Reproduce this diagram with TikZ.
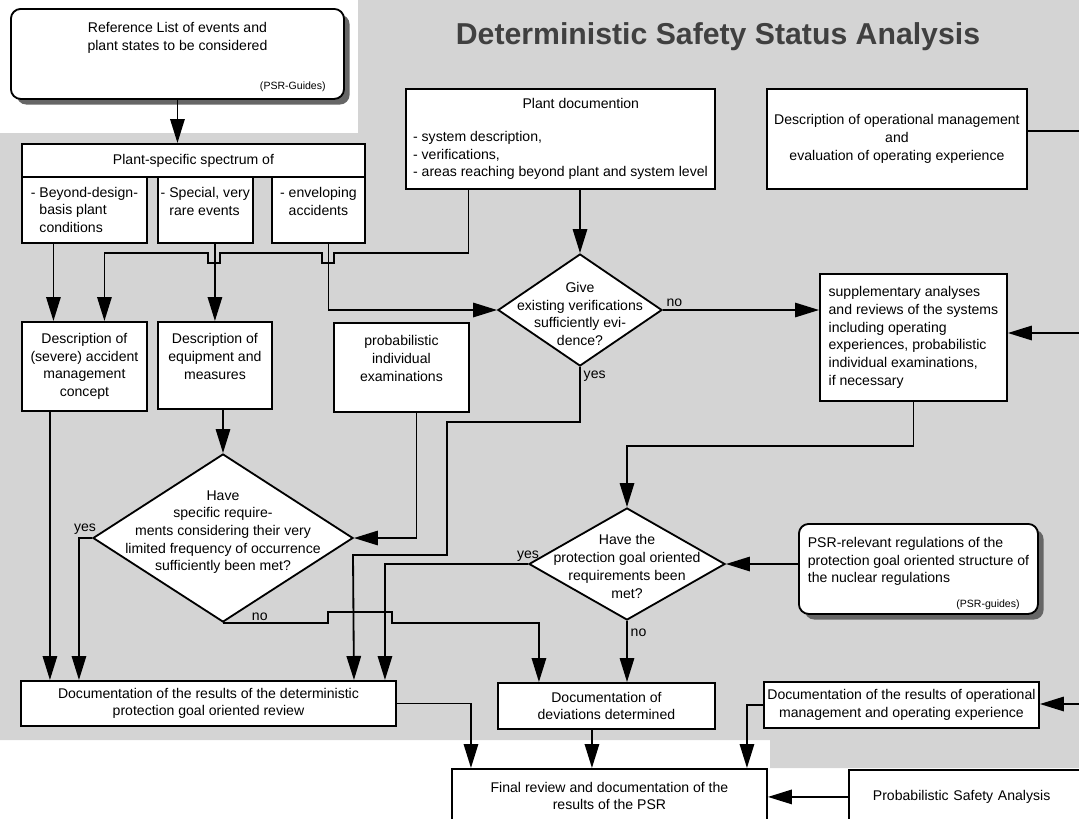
\documentclass[tikz,border=0pt]{standalone}
\usepackage{fontspec}
\setmainfont{Liberation Sans}
\usetikzlibrary{shapes.geometric, arrows.meta, shadows}
\newcommand{\qtext}[2][0pt]{\smash{\makebox[0pt]{\raisebox{#1}{\begin{tabular}{@{}c@{}}#2\end{tabular}}}}}

\begin{document}
\begin{tikzpicture}[
    x=0.025cm, y=-0.025cm,
    box/.style={rectangle, draw, line width=1.3pt, fill=white, align=center, font={\fontsize{10}{12.6}\selectfont}, inner sep=2pt, anchor=north west},
    evtbox/.style={box, align=left, minimum height=1.65cm},
    guide/.style={box, rounded corners=7pt, drop shadow={shadow xshift=4pt, shadow yshift=-4pt, fill=black!60, opacity=1}},
    decision/.style={diamond, draw, line width=1.3pt, fill=white, inner sep=0pt, font={\fontsize{10}{12.6}\selectfont}},
    src/.style={font={\fontsize{7.5}{9}\selectfont}, inner sep=0pt, anchor=south east},
    answer/.style={font={\fontsize{10}{12}\selectfont}, inner sep=2pt},
    arrow/.style={-{Triangle[length=6mm, width=3.6mm]}, line width=1.3pt},
    wire/.style={line width=1.3pt}
]
    \useasboundingbox (0,0) rectangle (1079,818);
    \clip (0,0) rectangle (1079,818);
    \fill[black!17] (0,133) -- (358,133) -- (358,0) -- (1079,0) -- (1079,768) -- (770,768) -- (770,740) -- (0,740) -- cycle;

    \node[font={\bfseries\fontsize{21.5}{24}\selectfont}, text=black!75] (title) at (718,37) {Deterministic Safety Status Analysis};

    \node[guide, minimum width=8.325cm, minimum height=2.25cm] (reflist) at (10,8) {Reference List of events and\\plant states to be considered\\~\\~};
    \node[src] (refsrc) at ([shift={(-19,-8)}]reflist.south east) {(PSR-Guides)};
    \node[box, minimum width=8.575cm, minimum height=0.825cm] (spec) at (21,143) {Plant-specific spectrum of};
    \node[evtbox, minimum width=3.125cm] (evt1) at (21,176) {- Beyond-design-\\\phantom{- }basis plant\\\phantom{- }conditions};
    \node[evtbox, minimum width=2.325cm] (evt2) at (157,176) {- Special, very\\\phantom{- }rare events\\~};
    \node[evtbox, minimum width=2.325cm] (evt3) at (271,176) {- enveloping\\\phantom{- }accidents\\~};
    \node[box, minimum width=7.725cm, minimum height=2.5cm] (plantdoc) at (405,88) {\begin{tabular}{@{}l@{}}\multicolumn{1}{@{}c@{}}{\hspace{29pt}Plant documention}\\[11pt]- system description,\\- verifications,\\- areas reaching beyond plant and system level\end{tabular}};
    \node[box, minimum width=6.5cm, minimum height=2.5cm] (opdesc) at (766,88) {Description of operational management\\and\\evaluation of operating experience};

    \node[box, minimum width=3.125cm, minimum height=2.225cm] (accmgmt) at (21,321) {Description of\\(severe) accident\\management\\concept};
    \node[box, minimum width=2.85cm, minimum height=2.175cm] (equip) at (157,321) {Description of\\equipment and\\measures\\~};
    \node[box, minimum width=3.375cm, minimum height=2.225cm] (probexam) at (333,322) {probabilistic\\individual\\examinations\\~};
    \node[decision, minimum width=4.1cm, minimum height=2.8cm] (verif) at (580,310) {\qtext[-6.4pt]{Give\\existing verifications\\sufficiently evi-\\dence?}};
    \node[box, align=left, minimum width=4.675cm, minimum height=3.175cm] (suppl) at (819,273) {supplementary analyses\\and reviews of the systems\\including operating\\experiences, probabilistic\\individual examinations,\\if necessary};

    \node[decision, minimum width=6.5cm, minimum height=4.2cm] (specreq) at (223,538) {\qtext[1.8pt]{Have\\specific require-\\ments considering their very\\limited frequency of occurrence\\sufficiently been met?}};
    \node[decision, minimum width=4.9cm, minimum height=2.8cm] (pgoal) at (627,564) {\qtext[-5.3pt]{Have the\\protection goal oriented\\requirements been\\met?}};
    \node[guide, align=left, minimum width=5.975cm, minimum height=2.25cm] (psrreg) at (798,523) {PSR-relevant regulations of the\\protection goal oriented structure of\\the nuclear regulations\\~};
    \node[src] (psrsrc) at ([shift={(-19,-5)}]psrreg.south east) {(PSR-guides)};

    \node[box, minimum width=9.375cm, minimum height=1.125cm] (docres) at (20,680) {Documentation of the results of the deterministic\\protection goal oriented review};
    \node[box, minimum width=5.425cm, minimum height=1.15cm] (docdev) at (497,682) {Documentation of\\deviations determined};
    \node[box, minimum width=6.875cm, minimum height=1.15cm] (docop) at (763,681) {Documentation of the results of operational\\management and operating experience};
    \node[box, minimum width=7.875cm, minimum height=1.35cm] (final) at (451,768) {Final review and documentation of the\\results of the PSR};
    \node[box, align=left, text width=6.9cm, inner xsep=0.6cm, minimum height=1.35cm] (psa) at (848,769) {Probabilistic Safety Analysis};

    \coordinate (edgeA) at (1079,131);
    \coordinate (edgeB) at (1079,333);
    \coordinate (edgeC) at (1079,704);

    \draw[arrow] (reflist.south) -- (reflist.south |- spec.north);
    \draw[arrow] ([shift={(-31,0)}]evt1.south) -- ([shift={(-31,0)}]accmgmt.north);
    \draw[arrow] (equip.north |- evt2.south) -- (equip.north);
    \draw[arrow] ([shift={(10,0)}]evt3.south) |- (verif.west);
    \draw[arrow] ([shift={(-92,0)}]plantdoc.south) |- (334,253) -- ++(0,10) -- ++(-12,0) -- ++(0,-10) -- (220,253) -- ++(0,10) -- ++(-12,0) -- ++(0,-10) -| ([shift={(20,0)}]accmgmt.north);
    \draw[arrow] (plantdoc.south -| verif.north) -- (verif.north);
    \draw[arrow] (verif.east) -- node[answer, pos=0, anchor=south west] (verifno) {no} (verif.east -| suppl.west);
    \draw[arrow] (verif.south) |- node[answer, pos=0, anchor=north west] (verifyes) {yes} (447,422) |- (353,555) -- ([shift={(145.5,0)}]docres.north);
    \draw[arrow] ([shift={(15,0)}]probexam.south) |- (specreq.east);
    \draw[arrow] (specreq.north |- equip.south) -- (specreq.north);
    \draw[arrow] ([shift={(-34.5,0)}]accmgmt.south) -- ([shift={(-34.5,0)}]accmgmt.south |- docres.north);
    \draw[arrow] (specreq.west) -| node[answer, pos=0, anchor=south, xshift=-5pt] (specyes) {yes} ([shift={(-129.5,0)}]docres.north);
    \draw[arrow] (specreq.south) -- node[answer, pos=0.35, anchor=south, inner sep=1pt] (specno) {no} ++(105,0) -- ++(0,-11) -- ++(64,0) -- ++(0,11) -| ([shift={(-67.5,0)}]docdev.north);
    \draw[arrow] (pgoal.west) -| node[answer, pos=0, anchor=south, inner sep=1pt] (pgoalyes) {yes} ([shift={(176.5,0)}]docres.north);
    \draw[arrow] (pgoal.south) -- node[answer, pos=0.2, anchor=west] (pgoalno) {no} (pgoal.south |- docdev.north);
    \draw[arrow] (suppl.south) -- ++(0,44) -| (pgoal.north);
    \draw[arrow] (psrreg.west |- pgoal.east) -- (pgoal.east);
    \draw[wire] (opdesc.east |- edgeA) -- (edgeA);
    \draw[arrow] (edgeB) -- (edgeB -| suppl.east);
    \draw[arrow] (edgeC) -- (edgeC -| docop.east);
    \draw[arrow] (docres.east) -| ([shift={(-138.5,0)}]final.north);
    \draw[arrow] ([shift={(-14.5,0)}]docdev.south) -- ([shift={(-14.5,0)}]docdev.south |- final.north);
    \draw[arrow] (docop.west) -| ([shift={(137.5,0)}]final.north);
    \draw[arrow] (psa.west) -- (psa.west -| final.east);
\end{tikzpicture}
\end{document}
